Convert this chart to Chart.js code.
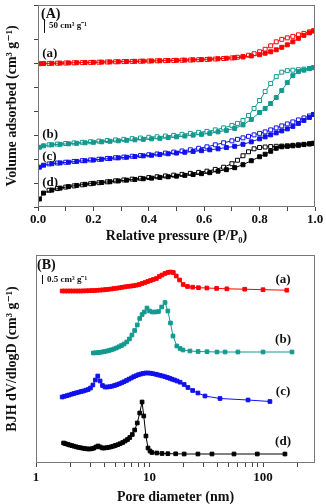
<!DOCTYPE html>
<html>
<head>
<meta charset="utf-8">
<script src="https://cdn.jsdelivr.net/npm/chart.js@4.4.1/dist/chart.umd.min.js"></script>
<style>
  body { margin: 0; background: #fff; }
  #wrap { position: relative; width: 326px; height: 504px; }
  canvas { position: absolute; left: 0; }
  #canvas { top: 0; }
  #canvas2 { top: 245px; }
</style>
</head>
<body>
<div id="wrap">
  <canvas id="canvas" width="326" height="245"></canvas>
  <canvas id="canvas2" width="326" height="259"></canvas>
</div>
<script>
// (A) isotherms - curves are offset, y in arbitrary stacked units
let pressure_ads = [0.005, 0.02, 0.05, 0.08, 0.11, 0.14, 0.17, 0.2, 0.23, 0.26, 0.29, 0.32, 0.35, 0.38, 0.41, 0.44, 0.47, 0.5, 0.53, 0.56, 0.59, 0.62, 0.65, 0.68, 0.71, 0.74, 0.77, 0.8, 0.82, 0.84, 0.86, 0.88, 0.9, 0.92, 0.94, 0.96, 0.98, 0.995];
let pressure_des = [0.995, 0.98, 0.96, 0.94, 0.92, 0.9, 0.88, 0.86, 0.84, 0.82, 0.8, 0.78, 0.76, 0.74, 0.72, 0.7, 0.67, 0.64, 0.61, 0.58, 0.55, 0.52, 0.49, 0.46, 0.43, 0.4, 0.37, 0.34, 0.31, 0.28, 0.25, 0.22, 0.19, 0.16, 0.13, 0.1, 0.07, 0.04];

let ads_a = [144, 144.2, 144.4, 144.6, 144.8, 145, 145.2, 145.4, 145.6, 145.8, 146, 146.2, 146.4, 146.6, 146.8, 147, 147.2, 147.4, 147.6, 147.9, 148.2, 148.6, 149, 149.5, 150, 150.8, 151.8, 153, 154.5, 156, 158, 160.5, 163, 166, 169.5, 172.5, 175, 177];
let des_a = [177, 176, 174.5, 173, 171.5, 170, 168.5, 166, 162, 158.5, 156, 154, 152.5, 151.3, 150.5, 149.8, 149.2, 148.7, 148.3, 148, 147.7, 147.5, 147.3, 147.1, 146.9, 146.7, 146.5, 146.3, 146.1, 145.9, 145.7, 145.5, 145.3, 145.1, 144.9, 144.7, 144.5, 144.3];

let ads_b = [60, 61.5, 62.5, 63, 63.5, 64, 64.5, 65, 65.5, 66, 66.5, 67, 67.5, 68, 68.5, 69, 69.8, 70.5, 71.3, 72.2, 73, 74, 75.5, 77, 79, 82.5, 88, 95, 99, 104, 110, 117, 125, 132, 136, 137.5, 139, 140];
let des_b = [140, 139.3, 138.5, 138, 137.5, 137, 135.5, 131, 124, 116, 107, 99, 92, 87, 84, 82, 79.5, 77.5, 76, 75, 74, 73, 72, 71.3, 70.6, 70, 69.3, 68.7, 68, 67.4, 66.8, 66.2, 65.6, 65, 64.4, 63.8, 63.2, 62.5];

let ads_c = [40, 42, 43.5, 44.3, 45, 45.8, 46.5, 47.2, 48, 48.7, 49.4, 50, 50.7, 51.4, 52, 52.8, 53.5, 54.2, 55, 55.8, 56.6, 57.5, 58.5, 59.7, 61, 63, 65.5, 68.5, 70.5, 72.5, 74.5, 76.5, 78.5, 81, 84, 87, 90, 93];
let des_c = [93, 91.5, 89.5, 87.5, 85.5, 83.5, 81.5, 79.5, 77.5, 75.5, 74, 72.5, 71, 69.5, 68, 66.5, 64.5, 62.5, 60.5, 59, 57.5, 56.3, 55.2, 54.2, 53.3, 52.5, 51.7, 51, 50.2, 49.5, 48.8, 48, 47.3, 46.6, 45.8, 45, 44.2, 43.3];

let ads_d = [8, 14, 17, 19, 20.5, 21.7, 22.8, 23.8, 24.6, 25.4, 26.2, 27, 27.7, 28.4, 29, 29.7, 30.4, 31, 31.8, 32.6, 33.5, 34.5, 36, 37.5, 39.5, 42.5, 46.5, 50.5, 53, 56, 59, 60.5, 61, 61.5, 62, 62.7, 63.4, 64];
let des_d = [64, 63.5, 63, 62.5, 62, 61.5, 61.2, 61, 60.7, 60.3, 59.8, 58.5, 55.5, 51.5, 47, 43.5, 40, 37.8, 36, 34.8, 33.8, 32.8, 32, 31.2, 30.4, 29.6, 28.8, 28, 27.2, 26.3, 25.3, 24.4, 23.4, 22.3, 21.2, 20, 18.5, 16.8];

// (B) BJH pore size distributions, also offset
let diam_a = [1.7, 1.8, 1.9, 2.0, 2.11, 2.23, 2.35, 2.48, 2.62, 2.77, 2.93, 3.1, 3.28, 3.47, 3.67, 3.88, 4.1, 4.34, 4.59, 4.86, 5.14, 5.44, 5.76, 6.1, 6.46, 6.84, 7.24, 7.67, 8.12, 8.6, 9.11, 9.65, 10.2, 10.8, 11.5, 12.2, 12.9, 13.7, 14.5, 15.3, 16.2, 17.2, 18.4, 19.8, 21.6, 24, 27, 32, 39, 48, 69, 100, 162];
let bjh_a = [172, 172, 172, 172, 172, 172, 172, 172, 172.1, 172.2, 172.3, 172.4, 172.5, 172.7, 172.9, 173.1, 173.4, 173.7, 174, 174.4, 174.8, 175.2, 175.7, 176.2, 176.6, 176.9, 177.3, 177.8, 178.5, 179.5, 180.5, 181.5, 182.5, 183.5, 184.5, 186.5, 188, 189.5, 190.5, 191, 190.5, 187, 183, 178.5, 176.5, 175.8, 175.3, 175, 174.6, 174.2, 173.8, 173.3, 172.8];

let diam_b = [3.2, 3.35, 3.5, 3.66, 3.83, 4.0, 4.2, 4.4, 4.62, 4.85, 5.1, 5.37, 5.66, 5.97, 6.3, 6.65, 7.0, 7.4, 7.8, 8.2, 8.6, 9.0, 9.5, 10.0, 10.6, 11.3, 12.0, 12.8, 13.7, 14.5, 15.3, 16.1, 17.4, 18.6, 19.7, 22.7, 26.8, 32.1, 39.3, 46.3, 60.1, 100, 180];
let bjh_b = [110, 110.2, 110.4, 110.7, 111, 111.4, 111.9, 112.5, 113.2, 114, 115, 116.2, 117.5, 119, 121, 124, 128, 132.5, 138, 144.5, 148.5, 151, 155, 152, 151, 151, 151.5, 156, 160.5, 152, 140, 127, 117, 114.5, 113, 112, 111.5, 111.3, 111, 111, 111, 111, 111];

let diam_c = [1.7, 1.78, 1.87, 1.96, 2.06, 2.16, 2.27, 2.38, 2.5, 2.62, 2.75, 2.88, 3.02, 3.17, 3.33, 3.5, 3.67, 3.85, 4.05, 4.25, 4.46, 4.68, 4.92, 5.16, 5.42, 5.69, 5.97, 6.27, 6.58, 6.91, 7.26, 7.62, 8.0, 8.4, 8.82, 9.26, 9.72, 10.2, 10.7, 11.3, 11.8, 12.4, 13.0, 13.7, 14.4, 15.1, 15.8, 16.6, 17.5, 18.6, 20.2, 21.8, 24.0, 26.7, 30.8, 41.8, 73.8, 115];
let bjh_c = [66, 66.7, 67.3, 68, 68.8, 69.5, 70.2, 70.8, 71.5, 72, 72.8, 73.5, 75, 78, 83, 87, 82, 77.5, 76, 76, 76.3, 76.8, 77.5, 78.3, 79.2, 80.2, 81.3, 82.5, 83.8, 85, 86.3, 87.3, 88.3, 89, 89.6, 90, 90, 89.8, 89.3, 88.8, 88.2, 87.7, 87, 86.3, 85.5, 84.7, 83.8, 83, 82, 80.8, 78.5, 75.5, 72.5, 70, 67, 64.5, 63, 61.5];

let diam_d = [1.75, 1.82, 1.9, 1.98, 2.07, 2.16, 2.26, 2.36, 2.47, 2.58, 2.7, 2.82, 2.95, 3.08, 3.22, 3.37, 3.52, 3.68, 3.85, 4.02, 4.2, 4.4, 4.6, 4.8, 5.0, 5.25, 5.5, 5.8, 6.1, 6.4, 6.7, 7.05, 7.4, 7.8, 8.2, 8.6, 8.9, 9.3, 9.7, 10.1, 10.5, 11.6, 12.9, 14.5, 17, 20.2, 26.7, 35.5, 55.5, 89, 156];
let bjh_d = [20, 19.3, 18.7, 18, 17.4, 16.8, 16.2, 15.7, 15.2, 14.8, 14.4, 14.1, 14, 14.2, 14.8, 16, 17, 16, 15, 15, 15.3, 15.7, 16.2, 16.8, 17.5, 18.3, 19.3, 20.5, 22, 23.5, 25.5, 28.5, 33, 40, 50, 61, 47, 27, 15, 12, 10.5, 10, 9.5, 9.3, 9.2, 9, 9, 9, 9, 9, 9];

let sample_labels = ['(a)', '(b)', '(c)', '(d)'];
let ticks_B = [1, 2, 3, 4, 5, 6, 7, 8, 9, 10, 20, 30, 40, 50, 60, 70, 80, 90, 100, 200];
let labels_B = [1, 10, 100];

let colors = ['#ff0000', '#13998f', '#1111ee', '#000000'];

Chart.defaults.font.family = '"Liberation Serif", "DejaVu Serif", serif';
Chart.defaults.font.weight = 'bold';
Chart.defaults.color = '#111';

function pairs(xs, ys) {
  let out = [];
  for (let i = 0; i < xs.length; i++) {
    out.push({x: xs[i], y: ys[i]});
  }
  return out;
}

function serie(xs, ys, color, open, radius) {
  return {
    data: pairs(xs, ys),
    borderColor: color,
    backgroundColor: color,
    borderWidth: 1,
    pointStyle: 'rect',
    pointRadius: radius,
    pointBorderWidth: 1,
    pointBorderColor: color,
    pointBackgroundColor: open ? '#ffffff' : color,
    tension: 0
  };
}

// frame, panel letter, scale bar and (a)-(d) labels
let moldura = {
  id: 'moldura',
  afterDraw(chart, args, opts) {
    let ctx = chart.ctx;
    let area = chart.chartArea;
    let sx = chart.scales.x;
    let sy = chart.scales.y;
    ctx.save();
    ctx.strokeStyle = '#777';
    ctx.lineWidth = 1;
    ctx.strokeRect(area.left + 0.5, area.top + 0.5, area.right - area.left - 1, area.bottom - area.top - 1);

    ctx.fillStyle = '#111';
    ctx.textBaseline = 'middle';
    ctx.textAlign = 'left';
    ctx.font = 'bold 14px "Liberation Serif"';
    ctx.fillText(opts.panel, area.left + opts.panelDx, area.top + opts.panelDy);

    let barLen = sy.getPixelForValue(0) - sy.getPixelForValue(opts.barValue);
    ctx.strokeStyle = '#111';
    ctx.beginPath();
    ctx.moveTo(area.left + 6.5, area.top + opts.barTop);
    ctx.lineTo(area.left + 6.5, area.top + opts.barTop + barLen);
    ctx.stroke();
    ctx.font = 'bold 9px "Liberation Serif"';
    ctx.fillText(opts.barText, area.left + 11, area.top + opts.barTop + barLen / 2);

    ctx.font = 'bold 13px "Liberation Serif"';
    ctx.textAlign = opts.noteAlign;
    for (let i = 0; i < sample_labels.length; i++) {
      ctx.fillText(sample_labels[i], sx.getPixelForValue(opts.noteX[i]), sy.getPixelForValue(opts.noteY[i]));
    }
    ctx.restore();
  }
};

let configuracao = {
  type: 'line',
  data: {
    datasets: [
      serie(pressure_ads, ads_a, colors[0], false, 2.8),
      serie(pressure_des, des_a, colors[0], true, 2.8),
      serie(pressure_ads, ads_b, colors[1], false, 2.8),
      serie(pressure_des, des_b, colors[1], true, 2.8),
      serie(pressure_ads, ads_c, colors[2], false, 2.8),
      serie(pressure_des, des_c, colors[2], true, 2.8),
      serie(pressure_ads, ads_d, colors[3], false, 2.8),
      serie(pressure_des, des_d, colors[3], true, 2.8)
    ]
  },
  options: {
    responsive: false,
    animation: false,
    layout: { padding: { top: 4, right: 11, left: 0, bottom: 0 } },
    plugins: {
      legend: { display: false },
      tooltip: { enabled: false },
      moldura: {
        panel: '(A)', panelDx: 3, panelDy: 9,
        barTop: 14, barValue: 14, barText: '50 cm³ g⁻¹',
        noteX: [0.015, 0.015, 0.015, 0.015], noteY: [154, 73, 51, 24], noteAlign: 'left'
      }
    },
    scales: {
      x: {
        type: 'linear',
        min: 0,
        max: 1,
        afterFit: function(scale) { scale.height = 38; },
        border: { display: false },
        grid: { drawOnChartArea: false, drawTicks: true, tickLength: 4, color: '#444' },
        ticks: {
          stepSize: 0.1,
          autoSkip: false,
          maxRotation: 0,
          padding: 1,
          color: '#111',
          font: { size: 13, weight: 'bold' },
          callback: function(v) {
            let k = Math.round(v * 10);
            return k % 2 == 0 ? (k / 10).toFixed(1) : '';
          }
        },
        title: {
          display: true,
          text: 'Relative pressure (P/P₀)',
          color: '#111',
          font: { size: 14, weight: 'bold', lineHeight: 1 },
          padding: { top: 0, bottom: 2 }
        }
      },
      y: {
        type: 'linear',
        min: 0,
        max: 203,
        afterFit: function(scale) { scale.width = 38; },
        border: { display: false },
        grid: { drawOnChartArea: false, drawTicks: true, tickLength: 4, color: '#444' },
        ticks: { stepSize: 24, display: false },
        title: {
          display: true,
          text: 'Volume adsorbed (cm³ g⁻¹)',
          color: '#111',
          font: { size: 14, weight: 'bold', lineHeight: 1 },
          padding: { top: 5, bottom: 0 }
        }
      }
    }
  },
  plugins: [moldura]
};

let chart = new Chart(document.getElementById('canvas'), configuracao);

let configuracao2 = {
  type: 'line',
  data: {
    datasets: [
      serie(diam_a, bjh_a, colors[0], false, 2.6),
      serie(diam_b, bjh_b, colors[1], false, 2.6),
      serie(diam_c, bjh_c, colors[2], false, 2.6),
      serie(diam_d, bjh_d, colors[3], false, 2.6)
    ]
  },
  options: {
    responsive: false,
    animation: false,
    layout: { padding: { top: 10, right: 11, left: 0, bottom: 0 } },
    plugins: {
      legend: { display: false },
      tooltip: { enabled: false },
      moldura: {
        panel: '(B)', panelDx: 1, panelDy: 10,
        barTop: 20, barValue: 9, barText: '0.5 cm³ g⁻¹',
        noteX: [150, 150, 150, 150], noteY: [183, 123, 71, 21], noteAlign: 'center'
      }
    },
    scales: {
      x: {
        type: 'logarithmic',
        min: 1,
        max: 287,
        afterFit: function(scale) { scale.height = 41; },
        afterBuildTicks: function(scale) {
          scale.ticks = ticks_B.map(function(v) { return {value: v}; });
        },
        border: { display: false },
        grid: { drawOnChartArea: false, drawTicks: true, tickLength: 4, color: '#444' },
        ticks: {
          autoSkip: false,
          maxRotation: 0,
          padding: 3,
          color: '#111',
          font: { size: 13, weight: 'bold' },
          callback: function(v) {
            return labels_B.indexOf(v) >= 0 ? String(v) : '';
          }
        },
        title: {
          display: true,
          text: 'Pore diameter (nm)',
          color: '#111',
          font: { size: 14, weight: 'bold', lineHeight: 1 },
          padding: { top: 0, bottom: 0 }
        }
      },
      y: {
        type: 'linear',
        min: 0,
        max: 208,
        afterFit: function(scale) { scale.width = 36; },
        border: { display: false },
        grid: { display: false },
        ticks: { display: false },
        title: {
          display: true,
          text: 'BJH dV/dlogD (cm³ g⁻¹)',
          color: '#111',
          font: { size: 14, weight: 'bold', lineHeight: 1 },
          padding: { top: 5, bottom: 0 }
        }
      }
    }
  },
  plugins: [moldura]
};

let chart2 = new Chart(document.getElementById('canvas2'), configuracao2);
</script>
</body>
</html>
